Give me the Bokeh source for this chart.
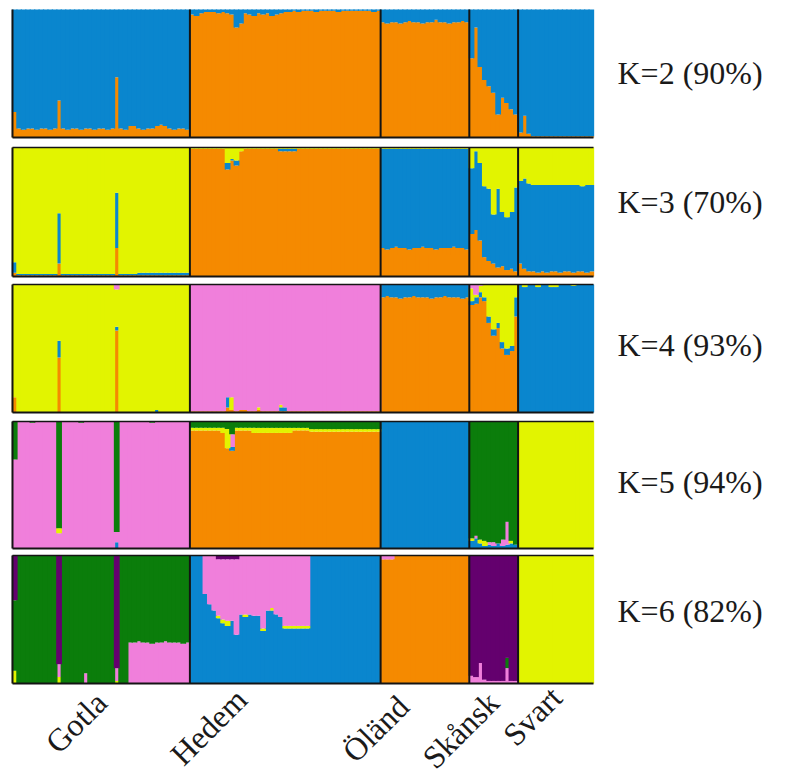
import math
from bokeh.plotting import figure
from bokeh.models import Range1d, ColumnDataSource
from bokeh.embed import file_html
from bokeh.resources import INLINE
from bokeh.core.properties import value

# ---------------- data ----------------
populations = ["Gotla", "Hedem", "Öländ", "Skånsk", "Svart"]
pop_sizes = [40, 43, 20, 11, 17]
panel_labels = ["K=2 (90%)", "K=3 (70%)", "K=4 (93%)", "K=5 (94%)", "K=6 (82%)"]

# K=2 (blue = remainder)
k2_orange = [
    # Gotla
    0.20, 0.07, 0.06, 0.07, 0.07, 0.06, 0.07, 0.07, 0.06, 0.07,
    0.29, 0.07, 0.06, 0.07, 0.07, 0.06, 0.07, 0.07, 0.06, 0.07,
    0.07, 0.06, 0.07, 0.47, 0.07, 0.06, 0.09, 0.09, 0.07, 0.06,
    0.07, 0.07, 0.09, 0.10, 0.09, 0.07, 0.06, 0.07, 0.07, 0.06,
    # Hedem
    0.96, 0.95, 0.97, 0.98, 0.98, 0.98, 0.97, 0.98, 0.97, 0.96,
    0.86, 0.89, 0.97, 0.96, 0.95, 0.97, 0.96, 0.97, 0.95, 0.96,
    0.97, 0.98, 0.98, 0.99, 0.98, 0.99, 0.99, 0.99, 0.98, 0.99,
    0.99, 0.99, 0.99, 0.98, 0.99, 0.99, 0.99, 0.99, 0.99, 0.99,
    0.99, 0.98, 0.99,
    # Öländ
    0.90, 0.89, 0.90, 0.90, 0.89, 0.90, 0.91, 0.90, 0.90, 0.89,
    0.90, 0.90, 0.92, 0.90, 0.90, 0.89, 0.90, 0.90, 0.91, 0.90,
    # Skånsk
    0.62, 0.86, 0.55, 0.45, 0.40, 0.35, 0.18, 0.31, 0.27, 0.22, 0.18,
    # Svart
    0.04, 0.17, 0.03, 0.01, 0.01, 0.01, 0.01, 0.01, 0.01, 0.01,
    0.01, 0.01, 0.01, 0.01, 0.01, 0.01, 0.01,
]

# K=3 (yellow = remainder)
k3_orange = [
    0.03, 0.01, 0.01, 0.01, 0.01, 0.01, 0.01, 0.01, 0.01, 0.01,
    0.10, 0.01, 0.01, 0.01, 0.01, 0.01, 0.01, 0.01, 0.01, 0.01,
    0.01, 0.01, 0.01, 0.22, 0.01, 0.01, 0.01, 0.01, 0.01, 0.01,
    0.01, 0.01, 0.01, 0.01, 0.01, 0.01, 0.01, 0.01, 0.01, 0.01,
    0.99, 0.99, 0.99, 0.99, 0.99, 0.99, 0.99, 0.99, 0.83, 0.90,
    0.86, 0.97, 0.99, 0.99, 0.99, 0.99, 0.99, 0.99, 0.99, 0.99,
    0.97, 0.97, 0.97, 0.97, 0.99, 0.99, 0.99, 0.99, 0.99, 0.99,
    0.99, 0.99, 0.99, 0.99, 0.99, 0.99, 0.99, 0.99, 0.99, 0.99,
    0.99, 0.99, 0.99,
    0.22, 0.21, 0.22, 0.23, 0.22, 0.22, 0.21, 0.22, 0.22, 0.23,
    0.22, 0.22, 0.21, 0.22, 0.22, 0.22, 0.23, 0.22, 0.22, 0.21,
    0.33, 0.36, 0.28, 0.15, 0.12, 0.10, 0.07, 0.08, 0.05, 0.06, 0.04,
    0.10, 0.06, 0.04, 0.04, 0.03, 0.04, 0.03, 0.04, 0.04, 0.03,
    0.04, 0.04, 0.03, 0.04, 0.04, 0.03, 0.04,
]
k3_blue = [
    0.08, 0.01, 0.01, 0.01, 0.01, 0.01, 0.01, 0.01, 0.01, 0.01,
    0.39, 0.01, 0.01, 0.01, 0.01, 0.01, 0.01, 0.01, 0.01, 0.01,
    0.01, 0.01, 0.01, 0.43, 0.01, 0.01, 0.01, 0.01, 0.02, 0.02,
    0.02, 0.02, 0.02, 0.02, 0.02, 0.02, 0.02, 0.02, 0.02, 0.02,
    0.00, 0.00, 0.00, 0.00, 0.00, 0.00, 0.00, 0.00, 0.05, 0.01,
    0.04, 0.00, 0.00, 0.00, 0.00, 0.00, 0.00, 0.00, 0.00, 0.00,
    0.02, 0.02, 0.02, 0.02, 0.00, 0.00, 0.00, 0.00, 0.00, 0.00,
    0.00, 0.00, 0.00, 0.00, 0.00, 0.00, 0.00, 0.00, 0.00, 0.00,
    0.00, 0.00, 0.00,
    0.77, 0.78, 0.77, 0.76, 0.77, 0.77, 0.78, 0.77, 0.77, 0.76,
    0.77, 0.77, 0.78, 0.77, 0.77, 0.77, 0.76, 0.77, 0.77, 0.78,
    0.51, 0.61, 0.60, 0.55, 0.56, 0.38, 0.61, 0.42, 0.41, 0.44, 0.65,
    0.64, 0.70, 0.68, 0.67, 0.68, 0.67, 0.68, 0.67, 0.67, 0.68,
    0.67, 0.67, 0.68, 0.67, 0.66, 0.68, 0.67,
]

# K=4 (yellow = remainder)
k4_orange = [
    0.12, 0.00, 0.00, 0.00, 0.00, 0.00, 0.00, 0.00, 0.00, 0.00,
    0.43, 0.00, 0.00, 0.00, 0.00, 0.00, 0.00, 0.00, 0.00, 0.00,
    0.00, 0.00, 0.00, 0.64, 0.00, 0.00, 0.00, 0.00, 0.00, 0.00,
    0.00, 0.00, 0.00, 0.00, 0.00, 0.00, 0.00, 0.00, 0.00, 0.00,
    0.01, 0.01, 0.01, 0.01, 0.01, 0.01, 0.01, 0.01, 0.04, 0.02,
    0.01, 0.02, 0.02, 0.01, 0.01, 0.02, 0.01, 0.01, 0.01, 0.01,
    0.01, 0.01, 0.01, 0.01, 0.01, 0.01, 0.01, 0.01, 0.01, 0.01,
    0.01, 0.01, 0.01, 0.01, 0.01, 0.01, 0.01, 0.01, 0.01, 0.01,
    0.01, 0.01, 0.01,
    0.90, 0.91, 0.90, 0.90, 0.89, 0.90, 0.90, 0.91, 0.90, 0.90,
    0.90, 0.89, 0.90, 0.90, 0.91, 0.90, 0.90, 0.90, 0.89, 0.90,
    0.84, 0.85, 0.90, 0.87, 0.70, 0.60, 0.66, 0.50, 0.45, 0.48, 0.75,
    0.00, 0.00, 0.00, 0.00, 0.00, 0.00, 0.00, 0.00, 0.00, 0.00,
    0.00, 0.00, 0.00, 0.00, 0.00, 0.00, 0.00,
]
k4_blue = [
    0.00, 0.00, 0.00, 0.00, 0.00, 0.00, 0.00, 0.00, 0.00, 0.00,
    0.13, 0.00, 0.00, 0.00, 0.00, 0.00, 0.00, 0.00, 0.00, 0.00,
    0.00, 0.00, 0.00, 0.03, 0.00, 0.00, 0.00, 0.00, 0.00, 0.00,
    0.00, 0.00, 0.02, 0.00, 0.00, 0.00, 0.00, 0.00, 0.00, 0.00,
    0.00, 0.00, 0.00, 0.00, 0.00, 0.00, 0.00, 0.00, 0.08, 0.00,
    0.00, 0.00, 0.00, 0.00, 0.00, 0.00, 0.00, 0.00, 0.00, 0.00,
    0.03, 0.03, 0.00, 0.00, 0.00, 0.00, 0.00, 0.00, 0.00, 0.00,
    0.00, 0.00, 0.00, 0.00, 0.00, 0.00, 0.00, 0.00, 0.00, 0.00,
    0.00, 0.00, 0.00,
    0.10, 0.09, 0.10, 0.10, 0.11, 0.10, 0.10, 0.09, 0.10, 0.10,
    0.10, 0.11, 0.10, 0.10, 0.09, 0.10, 0.10, 0.10, 0.11, 0.10,
    0.03, 0.05, 0.04, 0.03, 0.05, 0.05, 0.04, 0.05, 0.05, 0.04, 0.15,
    1.00, 0.98, 1.00, 1.00, 0.98, 1.00, 1.00, 0.98, 0.98, 1.00,
    1.00, 1.00, 0.99, 1.00, 1.00, 1.00, 1.00,
]
k4_pink = [
    0.00, 0.00, 0.00, 0.00, 0.00, 0.00, 0.00, 0.00, 0.00, 0.00,
    0.00, 0.00, 0.00, 0.00, 0.00, 0.00, 0.00, 0.00, 0.00, 0.00,
    0.00, 0.00, 0.00, 0.04, 0.00, 0.00, 0.00, 0.00, 0.00, 0.00,
    0.00, 0.00, 0.00, 0.00, 0.00, 0.00, 0.00, 0.00, 0.00, 0.00,
    0.99, 0.99, 0.99, 0.99, 0.99, 0.99, 0.99, 0.99, 0.88, 0.88,
    0.99, 0.98, 0.98, 0.99, 0.99, 0.96, 0.99, 0.99, 0.99, 0.99,
    0.94, 0.96, 0.99, 0.99, 0.99, 0.99, 0.99, 0.99, 0.99, 0.99,
    0.99, 0.99, 0.99, 0.99, 0.99, 0.99, 0.99, 0.99, 0.99, 0.99,
    0.99, 0.99, 0.99,
    0.00, 0.00, 0.00, 0.00, 0.00, 0.00, 0.00, 0.00, 0.00, 0.00,
    0.00, 0.00, 0.00, 0.00, 0.00, 0.00, 0.00, 0.00, 0.00, 0.00,
    0.03, 0.08, 0.01, 0.00, 0.00, 0.00, 0.00, 0.00, 0.00, 0.00, 0.00,
    0.00, 0.00, 0.00, 0.00, 0.00, 0.00, 0.00, 0.00, 0.00, 0.00,
    0.00, 0.00, 0.00, 0.00, 0.00, 0.00, 0.00,
]

# K=5 (green = remainder)
k5_orange = [
    0.00, 0.00, 0.00, 0.00, 0.00, 0.00, 0.00, 0.00, 0.00, 0.00,
    0.00, 0.00, 0.00, 0.00, 0.00, 0.00, 0.00, 0.00, 0.00, 0.00,
    0.00, 0.00, 0.00, 0.00, 0.00, 0.00, 0.00, 0.00, 0.00, 0.00,
    0.00, 0.00, 0.00, 0.00, 0.00, 0.00, 0.00, 0.00, 0.00, 0.00,
    0.93, 0.93, 0.93, 0.93, 0.93, 0.93, 0.93, 0.91, 0.79, 0.77,
    0.93, 0.93, 0.93, 0.93, 0.91, 0.91, 0.91, 0.91, 0.91, 0.91,
    0.91, 0.91, 0.91, 0.93, 0.93, 0.93, 0.93, 0.92, 0.92, 0.92,
    0.92, 0.92, 0.92, 0.92, 0.92, 0.92, 0.92, 0.92, 0.92, 0.92,
    0.92, 0.92, 0.92,
    0.00, 0.00, 0.00, 0.00, 0.00, 0.00, 0.00, 0.00, 0.00, 0.00,
    0.00, 0.00, 0.00, 0.00, 0.00, 0.00, 0.00, 0.00, 0.00, 0.00,
    0.00, 0.00, 0.00, 0.00, 0.00, 0.00, 0.00, 0.00, 0.00, 0.00, 0.00,
    0.00, 0.00, 0.00, 0.00, 0.00, 0.00, 0.00, 0.00, 0.00, 0.00,
    0.00, 0.00, 0.00, 0.00, 0.00, 0.00, 0.00,
]
k5_blue = [
    0.00, 0.00, 0.00, 0.00, 0.00, 0.00, 0.00, 0.00, 0.00, 0.00,
    0.00, 0.00, 0.00, 0.00, 0.00, 0.00, 0.00, 0.00, 0.00, 0.00,
    0.00, 0.00, 0.00, 0.05, 0.00, 0.00, 0.00, 0.00, 0.00, 0.00,
    0.00, 0.00, 0.00, 0.00, 0.00, 0.00, 0.00, 0.00, 0.00, 0.00,
    0.00, 0.00, 0.00, 0.00, 0.00, 0.00, 0.00, 0.00, 0.00, 0.03,
    0.00, 0.00, 0.00, 0.00, 0.00, 0.00, 0.00, 0.00, 0.00, 0.00,
    0.00, 0.00, 0.00, 0.00, 0.00, 0.00, 0.00, 0.00, 0.00, 0.00,
    0.00, 0.00, 0.00, 0.00, 0.00, 0.00, 0.00, 0.00, 0.00, 0.00,
    0.00, 0.00, 0.00,
    1.00, 1.00, 1.00, 1.00, 1.00, 1.00, 1.00, 1.00, 1.00, 1.00,
    1.00, 1.00, 1.00, 1.00, 1.00, 1.00, 1.00, 1.00, 1.00, 1.00,
    0.06, 0.08, 0.04, 0.02, 0.03, 0.02, 0.04, 0.02, 0.03, 0.04, 0.03,
    0.00, 0.00, 0.00, 0.00, 0.00, 0.00, 0.00, 0.00, 0.00, 0.00,
    0.00, 0.00, 0.00, 0.00, 0.00, 0.00, 0.00,
]
k5_pink = [
    0.70, 1.00, 1.00, 1.00, 0.99, 1.00, 1.00, 1.00, 1.00, 1.00,
    0.12, 1.00, 1.00, 1.00, 1.00, 0.99, 1.00, 1.00, 1.00, 1.00,
    1.00, 1.00, 1.00, 0.08, 1.00, 1.00, 1.00, 1.00, 1.00, 1.00,
    1.00, 0.99, 1.00, 1.00, 1.00, 1.00, 1.00, 1.00, 1.00, 1.00,
    0.00, 0.00, 0.00, 0.00, 0.00, 0.00, 0.00, 0.00, 0.00, 0.10,
    0.00, 0.00, 0.00, 0.00, 0.00, 0.00, 0.00, 0.00, 0.00, 0.00,
    0.00, 0.00, 0.00, 0.00, 0.00, 0.00, 0.00, 0.00, 0.00, 0.00,
    0.00, 0.00, 0.00, 0.00, 0.00, 0.00, 0.00, 0.00, 0.00, 0.00,
    0.00, 0.00, 0.00,
    0.00, 0.00, 0.00, 0.00, 0.00, 0.00, 0.00, 0.00, 0.00, 0.00,
    0.00, 0.00, 0.00, 0.00, 0.00, 0.00, 0.00, 0.00, 0.00, 0.00,
    0.00, 0.02, 0.00, 0.00, 0.02, 0.03, 0.00, 0.05, 0.18, 0.00, 0.00,
    0.00, 0.00, 0.00, 0.00, 0.00, 0.00, 0.00, 0.00, 0.00, 0.00,
    0.00, 0.00, 0.00, 0.00, 0.00, 0.00, 0.00,
]
k5_yellow = [
    0.00, 0.00, 0.00, 0.00, 0.00, 0.00, 0.00, 0.00, 0.00, 0.00,
    0.04, 0.00, 0.00, 0.00, 0.00, 0.00, 0.00, 0.00, 0.00, 0.00,
    0.00, 0.00, 0.00, 0.00, 0.00, 0.00, 0.00, 0.00, 0.00, 0.00,
    0.00, 0.00, 0.00, 0.00, 0.00, 0.00, 0.00, 0.00, 0.00, 0.00,
    0.02, 0.02, 0.02, 0.02, 0.02, 0.02, 0.02, 0.04, 0.15, 0.00,
    0.02, 0.02, 0.02, 0.02, 0.04, 0.04, 0.04, 0.04, 0.04, 0.04,
    0.04, 0.04, 0.04, 0.02, 0.02, 0.02, 0.02, 0.02, 0.02, 0.02,
    0.02, 0.02, 0.02, 0.02, 0.02, 0.02, 0.02, 0.02, 0.02, 0.02,
    0.02, 0.02, 0.02,
    0.00, 0.00, 0.00, 0.00, 0.00, 0.00, 0.00, 0.00, 0.00, 0.00,
    0.00, 0.00, 0.00, 0.00, 0.00, 0.00, 0.00, 0.00, 0.00, 0.00,
    0.02, 0.00, 0.03, 0.04, 0.00, 0.00, 0.00, 0.00, 0.00, 0.02, 0.00,
    1.00, 1.00, 1.00, 1.00, 1.00, 1.00, 1.00, 1.00, 1.00, 1.00,
    1.00, 1.00, 1.00, 1.00, 1.00, 1.00, 1.00,
]

# K=6 (green = remainder)
k6_blue = [
    0.00, 0.00, 0.00, 0.00, 0.00, 0.00, 0.00, 0.00, 0.00, 0.00,
    0.00, 0.00, 0.00, 0.00, 0.00, 0.00, 0.00, 0.00, 0.00, 0.00,
    0.00, 0.00, 0.00, 0.00, 0.00, 0.00, 0.00, 0.00, 0.00, 0.00,
    0.00, 0.00, 0.00, 0.00, 0.00, 0.00, 0.00, 0.00, 0.00, 0.00,
    1.00, 1.00, 1.00, 0.70, 0.62, 0.57, 0.51, 0.47, 0.45, 0.49,
    0.38, 0.54, 0.52, 0.54, 0.53, 0.53, 0.41, 0.57, 0.57, 0.54,
    0.52, 0.43, 0.43, 0.43, 0.43, 0.43, 0.43, 1.00, 1.00, 1.00,
    1.00, 1.00, 1.00, 1.00, 1.00, 1.00, 1.00, 1.00, 1.00, 1.00,
    1.00, 1.00, 1.00,
    0.00, 0.00, 0.00, 0.00, 0.00, 0.00, 0.00, 0.00, 0.00, 0.00,
    0.00, 0.00, 0.00, 0.00, 0.00, 0.00, 0.00, 0.00, 0.00, 0.00,
    0.00, 0.00, 0.00, 0.00, 0.00, 0.00, 0.00, 0.00, 0.00, 0.00, 0.00,
    0.00, 0.00, 0.00, 0.00, 0.00, 0.00, 0.00, 0.00, 0.00, 0.00,
    0.00, 0.00, 0.00, 0.00, 0.00, 0.00, 0.00,
]
k6_yellow = [
    0.10, 0.00, 0.00, 0.00, 0.00, 0.00, 0.00, 0.00, 0.00, 0.00,
    0.05, 0.00, 0.00, 0.00, 0.00, 0.00, 0.00, 0.00, 0.00, 0.00,
    0.00, 0.00, 0.00, 0.02, 0.00, 0.00, 0.00, 0.00, 0.00, 0.00,
    0.00, 0.00, 0.00, 0.00, 0.00, 0.00, 0.00, 0.00, 0.00, 0.00,
    0.00, 0.00, 0.00, 0.00, 0.00, 0.00, 0.02, 0.03, 0.04, 0.00,
    0.00, 0.00, 0.02, 0.00, 0.00, 0.00, 0.02, 0.00, 0.02, 0.00,
    0.00, 0.02, 0.02, 0.02, 0.02, 0.02, 0.02, 0.00, 0.00, 0.00,
    0.00, 0.00, 0.00, 0.00, 0.00, 0.00, 0.00, 0.00, 0.00, 0.00,
    0.00, 0.00, 0.00,
    0.00, 0.00, 0.00, 0.00, 0.00, 0.00, 0.00, 0.00, 0.00, 0.00,
    0.00, 0.00, 0.00, 0.00, 0.00, 0.00, 0.00, 0.00, 0.00, 0.00,
    0.00, 0.00, 0.00, 0.00, 0.00, 0.00, 0.00, 0.00, 0.00, 0.00, 0.00,
    1.00, 1.00, 1.00, 1.00, 1.00, 1.00, 1.00, 1.00, 1.00, 1.00,
    1.00, 1.00, 1.00, 1.00, 1.00, 1.00, 1.00,
]
k6_orange = [
    0.00, 0.00, 0.00, 0.00, 0.00, 0.00, 0.00, 0.00, 0.00, 0.00,
    0.00, 0.00, 0.00, 0.00, 0.00, 0.00, 0.00, 0.00, 0.00, 0.00,
    0.00, 0.00, 0.00, 0.00, 0.00, 0.00, 0.00, 0.00, 0.00, 0.00,
    0.00, 0.00, 0.00, 0.00, 0.00, 0.00, 0.00, 0.00, 0.00, 0.00,
    0.00, 0.00, 0.00, 0.00, 0.00, 0.00, 0.00, 0.00, 0.00, 0.00,
    0.00, 0.00, 0.00, 0.00, 0.00, 0.00, 0.00, 0.00, 0.00, 0.00,
    0.00, 0.00, 0.00, 0.00, 0.00, 0.00, 0.00, 0.00, 0.00, 0.00,
    0.00, 0.00, 0.00, 0.00, 0.00, 0.00, 0.00, 0.00, 0.00, 0.00,
    0.00, 0.00, 0.00,
    0.97, 0.97, 0.97, 1.00, 1.00, 1.00, 1.00, 1.00, 1.00, 1.00,
    1.00, 1.00, 1.00, 1.00, 1.00, 1.00, 1.00, 1.00, 1.00, 1.00,
    0.00, 0.00, 0.00, 0.00, 0.00, 0.00, 0.00, 0.00, 0.00, 0.00, 0.00,
    0.00, 0.00, 0.00, 0.00, 0.00, 0.00, 0.00, 0.00, 0.00, 0.00,
    0.00, 0.00, 0.00, 0.00, 0.00, 0.00, 0.00,
]
k6_pink = [
    0.00, 0.00, 0.00, 0.00, 0.00, 0.00, 0.00, 0.00, 0.00, 0.00,
    0.10, 0.00, 0.00, 0.00, 0.00, 0.00, 0.08, 0.00, 0.00, 0.00,
    0.00, 0.00, 0.00, 0.10, 0.00, 0.00, 0.32, 0.32, 0.33, 0.32,
    0.32, 0.31, 0.32, 0.32, 0.33, 0.32, 0.32, 0.32, 0.31, 0.32,
    0.00, 0.00, 0.00, 0.30, 0.38, 0.43, 0.44, 0.47, 0.48, 0.48,
    0.59, 0.46, 0.46, 0.46, 0.47, 0.47, 0.57, 0.43, 0.41, 0.46,
    0.48, 0.55, 0.55, 0.55, 0.55, 0.55, 0.55, 0.00, 0.00, 0.00,
    0.00, 0.00, 0.00, 0.00, 0.00, 0.00, 0.00, 0.00, 0.00, 0.00,
    0.00, 0.00, 0.00,
    0.03, 0.03, 0.03, 0.00, 0.00, 0.00, 0.00, 0.00, 0.00, 0.00,
    0.00, 0.00, 0.00, 0.00, 0.00, 0.00, 0.00, 0.00, 0.00, 0.00,
    0.06, 0.05, 0.16, 0.03, 0.02, 0.02, 0.02, 0.02, 0.12, 0.02, 0.02,
    0.00, 0.00, 0.00, 0.00, 0.00, 0.00, 0.00, 0.00, 0.00, 0.00,
    0.00, 0.00, 0.00, 0.00, 0.00, 0.00, 0.00,
]
k6_purple = [
    0.35, 0.00, 0.00, 0.00, 0.00, 0.00, 0.00, 0.00, 0.00, 0.00,
    0.85, 0.00, 0.00, 0.00, 0.00, 0.00, 0.00, 0.00, 0.00, 0.00,
    0.00, 0.00, 0.00, 0.88, 0.00, 0.00, 0.00, 0.00, 0.00, 0.00,
    0.00, 0.00, 0.00, 0.00, 0.00, 0.00, 0.00, 0.00, 0.00, 0.00,
    0.00, 0.00, 0.00, 0.00, 0.00, 0.00, 0.03, 0.03, 0.03, 0.03,
    0.03, 0.00, 0.00, 0.00, 0.00, 0.00, 0.00, 0.00, 0.00, 0.00,
    0.00, 0.00, 0.00, 0.00, 0.00, 0.00, 0.00, 0.00, 0.00, 0.00,
    0.00, 0.00, 0.00, 0.00, 0.00, 0.00, 0.00, 0.00, 0.00, 0.00,
    0.00, 0.00, 0.00,
    0.00, 0.00, 0.00, 0.00, 0.00, 0.00, 0.00, 0.00, 0.00, 0.00,
    0.00, 0.00, 0.00, 0.00, 0.00, 0.00, 0.00, 0.00, 0.00, 0.00,
    0.94, 0.95, 0.84, 0.97, 0.98, 0.98, 0.98, 0.98, 0.80, 0.98, 0.98,
    0.00, 0.00, 0.00, 0.00, 0.00, 0.00, 0.00, 0.00, 0.00, 0.00,
    0.00, 0.00, 0.00, 0.00, 0.00, 0.00, 0.00,
]

COLORS = {
    "blue": "#0A86CE", "orange": "#F58A00", "yellow": "#E2F400",
    "pink": "#F07FDB", "green": "#0B7D0B", "purple": "#64006E",
}

# (stack order bottom->top, given columns, remainder column)
panels = [
    (["orange", "blue"], {"orange": k2_orange}, "blue"),
    (["orange", "blue", "yellow"], {"orange": k3_orange, "blue": k3_blue}, "yellow"),
    (["orange", "blue", "yellow", "pink"],
     {"orange": k4_orange, "blue": k4_blue, "pink": k4_pink}, "yellow"),
    (["orange", "blue", "pink", "yellow", "green"],
     {"orange": k5_orange, "blue": k5_blue, "pink": k5_pink, "yellow": k5_yellow}, "green"),
    (["blue", "yellow", "orange", "pink", "green", "purple"],
     {"blue": k6_blue, "yellow": k6_yellow, "orange": k6_orange,
      "pink": k6_pink, "purple": k6_purple}, "green"),
]

N = sum(pop_sizes)
for order, given, rem in panels:
    for name, arr in given.items():
        assert len(arr) == N, (name, len(arr))

# ---------------- layout (canvas pixels) ----------------
W, H = 787, 783
BAR_L, BAR_R = 12, 593
sx = (BAR_R - BAR_L) / N
panel_top = [9, 147, 284, 421, 555]
panel_bot = [137, 276, 412, 548, 683]
label_left_px = 617
label_mid_px = [72, 201, 344, 481, 610]

p = figure(width=W, height=H, output_backend="svg", toolbar_location=None,
           x_range=Range1d(-BAR_L / sx, (W - BAR_L) / sx), y_range=Range1d(0, 1),
           x_axis_location=None, y_axis_location=None, min_border=0)
p.min_border_left = p.min_border_right = p.min_border_top = p.min_border_bottom = 0
p.grid.visible = False
p.outline_line_color = None
p.background_fill_color = "white"
p.border_fill_color = "white"

bounds = [0]
for n in pop_sizes:
    bounds.append(bounds[-1] + n)

xs = [i + 0.5 for i in range(N)]
FONT = value("Liberation Serif")

for k, (order, given, rem) in enumerate(panels):
    h = panel_bot[k] - panel_top[k]
    rname = "k%d" % (k + 2)
    p.extra_y_ranges[rname] = Range1d(-(H - panel_bot[k]) / h, 1 + panel_top[k] / h)
    data = {"x": xs}
    for c in order:
        if c in given:
            data[c] = list(given[c])
    data[rem] = [max(0.0, 1.0 - sum(given[c][i] for c in given)) for i in range(N)]
    src = ColumnDataSource(data)
    p.vbar_stack(order, x="x", width=1.3, source=src, y_range_name=rname,
                 fill_color=[COLORS[c] for c in order], line_color=None)
    # borders and population separators
    sep_x = bounds[:-1]
    p.segment(x0=sep_x, y0=[0] * len(sep_x), x1=sep_x, y1=[1] * len(sep_x),
              y_range_name=rname, line_color="#141414", line_width=2)
    p.segment(x0=[0], y0=[0], x1=[N], y1=[0], y_range_name=rname,
              line_color="#141414", line_width=2)
    if k > 0:
        p.segment(x0=[0], y0=[1], x1=[N], y1=[1], y_range_name=rname,
                  line_color="#141414", line_width=1.5)
    # K label on the right
    p.text(x=[(label_left_px - BAR_L) / sx], y=[(panel_bot[k] - label_mid_px[k]) / h],
           text=[panel_labels[k]], y_range_name=rname,
           text_font=FONT, text_font_size="32px", text_color="#1a1a1a",
           text_align="left", text_baseline="middle")

# population labels (rotated) below the last panel
lab_px = [(88, 684), (228, 681), (390, 688), (480, 684), (543, 679)]
h5 = panel_bot[4] - panel_top[4]
lab_x = [(px - BAR_L) / sx for px, py in lab_px]
lab_y = [(panel_bot[4] - py) / h5 for px, py in lab_px]
p.text(x=lab_x, y=lab_y, text=populations, y_range_name="k6", angle=math.pi / 4,
       text_font=FONT, text_font_size="32px", text_color="#1a1a1a",
       text_align="right", text_baseline="top")

open("out.html", "w").write(file_html(p, INLINE))
